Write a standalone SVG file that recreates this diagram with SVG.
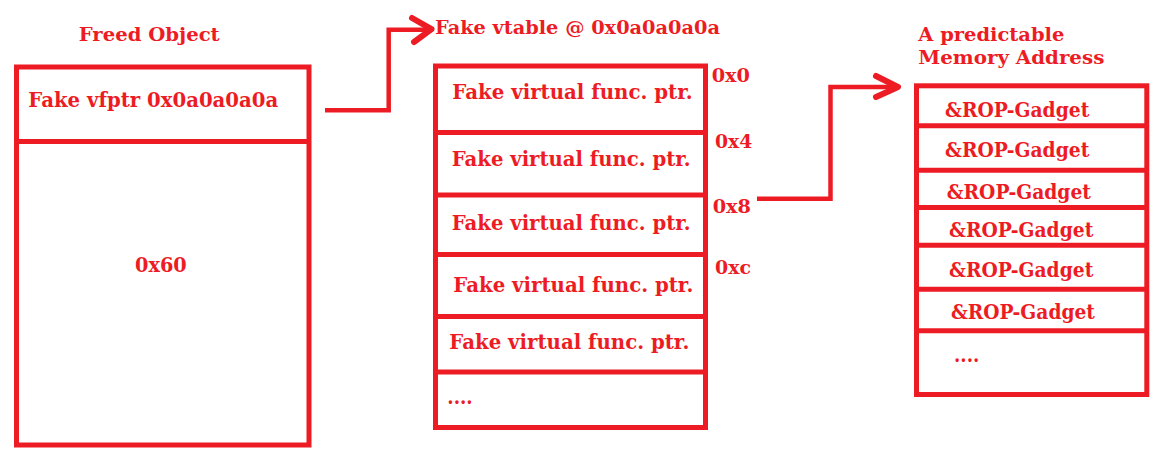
<svg xmlns="http://www.w3.org/2000/svg" width="1163" height="458" viewBox="0 0 1163 458">
<style>
.box{fill:none;stroke:#ED1C24;stroke-width:5}
.div{stroke:#ED1C24;stroke-width:5}
.t{font-family:"DejaVu Serif","Liberation Serif",serif;font-weight:bold;fill:#ED1C24}
.s19{font-size:19px}
.s20{font-size:20px}
.s21{font-size:21px}
.con{fill:none;stroke:#ED1C24;stroke-width:4.5}
.head{fill:none;stroke:#ED1C24;stroke-width:6;stroke-linecap:round;stroke-linejoin:round}
</style>
<rect width="1163" height="458" fill="#ffffff"/>
<g id="freed-object">
<text class="t s19" x="78.7" y="40.7" textLength="141" lengthAdjust="spacingAndGlyphs">Freed Object</text>
<rect class="box" x="16.5" y="67" width="292.5" height="378"/>
<line class="div" x1="16.5" y1="141.5" x2="309" y2="141.5"/>
<text class="t s21" x="28.3" y="107.3" textLength="250" lengthAdjust="spacingAndGlyphs">Fake vfptr 0x0a0a0a0a</text>
<text class="t s20" x="135" y="271.7" textLength="51.7" lengthAdjust="spacingAndGlyphs">0x60</text>
</g>
<g id="fake-vtable">
<text class="t s19" x="435" y="34" textLength="285" lengthAdjust="spacingAndGlyphs">Fake vtable @ 0x0a0a0a0a</text>
<rect class="box" x="435.5" y="66" width="270" height="361.5"/>
<line class="div" x1="435.5" y1="132.5" x2="705.5" y2="132.5"/>
<line class="div" x1="435.5" y1="195" x2="705.5" y2="195"/>
<line class="div" x1="435.5" y1="254.5" x2="705.5" y2="254.5"/>
<line class="div" x1="435.5" y1="316.5" x2="705.5" y2="316.5"/>
<line class="div" x1="435.5" y1="372" x2="705.5" y2="372"/>
<text class="t s21" x="452.3" y="99" textLength="240.4" lengthAdjust="spacingAndGlyphs">Fake virtual func. ptr.</text>
<text class="t s21" x="451.7" y="165.7" textLength="239" lengthAdjust="spacingAndGlyphs">Fake virtual func. ptr.</text>
<text class="t s21" x="451.7" y="230" textLength="239" lengthAdjust="spacingAndGlyphs">Fake virtual func. ptr.</text>
<text class="t s21" x="453.3" y="292.3" textLength="240" lengthAdjust="spacingAndGlyphs">Fake virtual func. ptr.</text>
<text class="t s21" x="449.3" y="349.3" textLength="240" lengthAdjust="spacingAndGlyphs">Fake virtual func. ptr.</text>
<text class="t s21" x="447.3" y="404" textLength="25.4" lengthAdjust="spacingAndGlyphs">....</text>
<text class="t s19" x="711.7" y="81.7" textLength="38.3" lengthAdjust="spacingAndGlyphs">0x0</text>
<text class="t s19" x="715" y="148.3" textLength="37.3" lengthAdjust="spacingAndGlyphs">0x4</text>
<text class="t s19" x="712.7" y="213.3" textLength="38.3" lengthAdjust="spacingAndGlyphs">0x8</text>
<text class="t s19" x="715" y="274.3" textLength="36" lengthAdjust="spacingAndGlyphs">0xc</text>
</g>
<g id="memory-address">
<text class="t s19" x="918.3" y="40.7" textLength="146" lengthAdjust="spacingAndGlyphs">A predictable</text>
<text class="t s19" x="918.3" y="64.3" textLength="186" lengthAdjust="spacingAndGlyphs">Memory Address</text>
<rect class="box" x="916.5" y="85.8" width="230.3" height="308.7"/>
<line class="div" x1="916.5" y1="125.8" x2="1146.8" y2="125.8"/>
<line class="div" x1="916.5" y1="170.2" x2="1146.8" y2="170.2"/>
<line class="div" x1="916.5" y1="207.5" x2="1146.8" y2="207.5"/>
<line class="div" x1="916.5" y1="245.2" x2="1146.8" y2="245.2"/>
<line class="div" x1="916.5" y1="289.2" x2="1146.8" y2="289.2"/>
<line class="div" x1="916.5" y1="330.8" x2="1146.8" y2="330.8"/>
<text class="t s20" x="945" y="116.7" textLength="144.3" lengthAdjust="spacingAndGlyphs">&amp;ROP-Gadget</text>
<text class="t s20" x="945" y="157.3" textLength="144.3" lengthAdjust="spacingAndGlyphs">&amp;ROP-Gadget</text>
<text class="t s20" x="946.7" y="199.3" textLength="144.3" lengthAdjust="spacingAndGlyphs">&amp;ROP-Gadget</text>
<text class="t s20" x="949" y="236.7" textLength="144.3" lengthAdjust="spacingAndGlyphs">&amp;ROP-Gadget</text>
<text class="t s20" x="949" y="277.3" textLength="144.3" lengthAdjust="spacingAndGlyphs">&amp;ROP-Gadget</text>
<text class="t s20" x="951" y="319" textLength="144" lengthAdjust="spacingAndGlyphs">&amp;ROP-Gadget</text>
<text class="t s20" x="954" y="362.3" textLength="25.3" lengthAdjust="spacingAndGlyphs">....</text>
</g>
<g id="connectors">
<path class="con" d="M325,110.3 H388.7 V29.7 H431"/>
<path class="head" d="M412,18 L431.5,29.2 L414,42"/>
<path class="con" d="M757,198.7 H830.5 V87 H898"/>
<path class="head" d="M876,76 L898,87 L876,97"/>
</g>
</svg>
